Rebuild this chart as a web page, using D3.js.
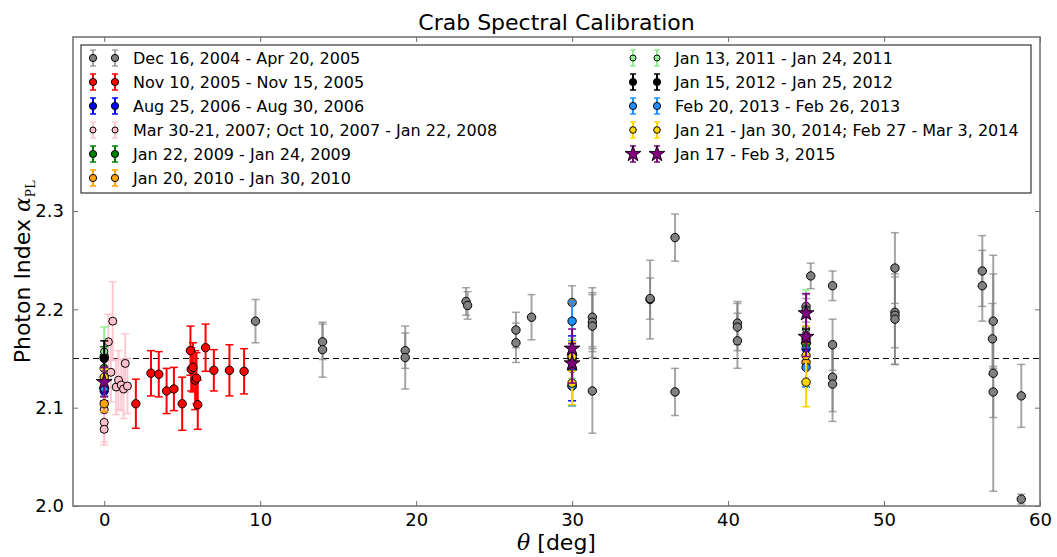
<!DOCTYPE html>
<html><head><meta charset="utf-8">
<script src="https://cdn.jsdelivr.net/npm/d3@7"></script>
<style>body{margin:0;background:#fff} text{font-family:"DejaVu Sans",sans-serif;fill:#000}</style>
</head><body><svg id="c" width="1057" height="557"></svg>
<script>
// ---------- data ----------
const xTicks = [0, 10, 20, 30, 40, 50, 60];
const yTicks = [2.0, 2.1, 2.2, 2.3];
const refAlpha = 2.15;

const grayTheta = [0, 9.7, 14.0, 14.0, 19.3, 19.3, 23.2, 23.3, 26.4, 26.4, 27.4, 30.0, 31.3, 31.3, 31.3, 31.3, 35.0, 35.0, 36.6, 36.6, 40.6, 40.6, 40.6, 45.0, 45.0, 45.3, 46.7, 46.7, 46.7, 46.7, 50.7, 50.7, 50.7, 50.7, 56.3, 56.3, 57.0, 56.95, 57.0, 57.0, 58.8, 58.8];
const grayAlpha = [2.140, 2.188, 2.167, 2.159, 2.158, 2.151, 2.208, 2.204, 2.179, 2.166, 2.192, 2.207, 2.192, 2.187, 2.183, 2.117, 2.210, 2.211, 2.273, 2.116, 2.186, 2.182, 2.168, 2.203, 2.199, 2.234, 2.224, 2.164, 2.131, 2.124, 2.242, 2.197, 2.194, 2.190, 2.239, 2.224, 2.188, 2.170, 2.135, 2.116, 2.112, 2.007];
const grayErr = [0.010, 0.022, 0.018, 0.028, 0.018, 0.032, 0.014, 0.014, 0.018, 0.020, 0.023, 0.017, 0.030, 0.030, 0.032, 0.043, 0.040, 0.021, 0.024, 0.024, 0.022, 0.024, 0.028, 0.012, 0.012, 0.013, 0.015, 0.026, 0.035, 0.038, 0.036, 0.036, 0.050, 0.046, 0.036, 0.036, 0.048, 0.036, 0.120, 0.026, 0.032, 0.005];

const redTheta = [2.03, 3.0, 3.5, 4.0, 4.47, 5.0, 5.53, 5.58, 5.69, 5.83, 5.92, 6.0, 6.5, 7.03, 8.03, 8.97];
const redAlpha = [2.104, 2.135, 2.134, 2.117, 2.119, 2.104, 2.158, 2.139, 2.141, 2.128, 2.130, 2.103, 2.161, 2.138, 2.138, 2.137];
const redErr = [0.025, 0.023, 0.023, 0.023, 0.022, 0.027, 0.025, 0.022, 0.025, 0.030, 0.026, 0.025, 0.024, 0.021, 0.026, 0.023];

const blueTheta = [0, 30, 45];
const blueAlpha = [2.117, 2.140, 2.160];
const blueErr = [0.010, 0.033, 0.012];

const pinkTheta = [0, 0, 0, 0.27, 0.43, 0.55, 0.77, 0.92, 1.09, 1.24, 1.35, 1.49];
const pinkAlpha = [2.098, 2.085, 2.078, 2.167, 2.136, 2.188, 2.121, 2.128, 2.123, 2.119, 2.145, 2.122];
const pinkErr = [0.022, 0.020, 0.016, 0.028, 0.030, 0.040, 0.028, 0.030, 0.026, 0.030, 0.030, 0.028];

const greenTheta = [0, 30, 45];
const greenAlpha = [2.152, 2.150, 2.165];
const greenErr = [0.010, 0.012, 0.010];

const orangeTheta = [0, 30, 45];
const orangeAlpha = [2.104, 2.122, 2.146];
const orangeErr = [0.008, 0.020, 0.020];

const lgreenTheta = [0, 30, 45];
const lgreenAlpha = [2.157, 2.150, 2.180];
const lgreenErr = [0.025, 0.020, 0.040];

const blackTheta = [0, 30, 45];
const blackAlpha = [2.150, 2.155, 2.170];
const blackErr = [0.018, 0.012, 0.010];

const dblueTheta = [0, 30, 30, 45];
const dblueAlpha = [2.120, 2.188, 2.122, 2.141];
const dblueErr = [0.008, 0.020, 0.020, 0.020];

const goldTheta = [0, 30, 30, 45, 45];
const goldAlpha = [2.131, 2.152, 2.125, 2.153, 2.126];
const goldErr = [0.008, 0.015, 0.022, 0.030, 0.025];

const purpleTheta = [0, 30, 30, 45, 45];
const purpleAlpha = [2.126, 2.160, 2.145, 2.196, 2.172];
const purpleErr = [0.015, 0.020, 0.020, 0.020, 0.020];

const seriesLabels = [
  "Dec 16, 2004 - Apr 20, 2005",
  "Nov 10, 2005 - Nov 15, 2005",
  "Aug 25, 2006 - Aug 30, 2006",
  "Mar 30-21, 2007; Oct 10, 2007 - Jan 22, 2008",
  "Jan 22, 2009 - Jan 24, 2009",
  "Jan 20, 2010 - Jan 30, 2010",
  "Jan 13, 2011 - Jan 24, 2011",
  "Jan 15, 2012 - Jan 25, 2012",
  "Feb 20, 2013 - Feb 26, 2013",
  "Jan 21 - Jan 30, 2014; Feb 27 - Mar 3, 2014",
  "Jan 17 - Feb 3, 2015"
];

// ---------- styles ----------
const seriesStyle = [
  {color:"#808080", ebColor:"#808080", ebOp:0.7, r:4.2, legR:3.6, marker:"circle"},
  {color:"#ff0000", ebColor:"#ff0000", ebOp:1, r:4.2, legR:3.6, marker:"circle"},
  {color:"#0000ff", ebColor:"#0000ff", ebOp:1, r:4.2, legR:3.6, marker:"circle"},
  {color:"#ffc0cb", ebColor:"#ffc0cb", ebOp:0.85, r:4.0, legR:3.0, marker:"circle"},
  {color:"#008000", ebColor:"#008000", ebOp:1, r:4.2, legR:3.6, marker:"circle"},
  {color:"#ffa500", ebColor:"#ffa500", ebOp:1, r:4.2, legR:3.6, marker:"circle"},
  {color:"#90ee90", ebColor:"#90ee90", ebOp:1, r:3.6, legR:3.0, marker:"circle"},
  {color:"#000000", ebColor:"#000000", ebOp:1, r:4.2, legR:3.6, marker:"circle"},
  {color:"#1e90ff", ebColor:"#1e90ff", ebOp:1, r:4.2, legR:3.6, marker:"circle"},
  {color:"#ffd700", ebColor:"#ffd700", ebOp:1, r:4.2, legR:3.3, marker:"circle"},
  {color:"#800080", ebColor:"#800080", ebOp:1, r:0, legR:0, marker:"star"}
];
const seriesData = [
  [grayTheta, grayAlpha, grayErr],
  [redTheta, redAlpha, redErr],
  [blueTheta, blueAlpha, blueErr],
  [pinkTheta, pinkAlpha, pinkErr],
  [greenTheta, greenAlpha, greenErr],
  [orangeTheta, orangeAlpha, orangeErr],
  [lgreenTheta, lgreenAlpha, lgreenErr],
  [blackTheta, blackAlpha, blackErr],
  [dblueTheta, dblueAlpha, dblueErr],
  [goldTheta, goldAlpha, goldErr],
  [purpleTheta, purpleAlpha, purpleErr]
];

// ---------- layout ----------
const L = 73, R = 1040, T = 37, B = 506;
const x = d3.scaleLinear().domain([-2, 60]).range([L, R]);
const y = d3.scaleLinear().domain([2.0, 2.477]).range([B, T]);
const svg = d3.select("#c");
const axisCol = "#6e6e6e";

// reference line
svg.append("line")
  .attr("x1", x(-2)).attr("x2", x(60)).attr("y1", y(refAlpha)).attr("y2", y(refAlpha))
  .attr("stroke", "#000").attr("stroke-width", 1.1).attr("stroke-dasharray", "6,4");

const star = d3.symbol().type(d3.symbolStar).size(78);

// series
seriesData.forEach((sd, si) => {
  const st = seriesStyle[si];
  const pts = sd[0].map((t, i) => ({t, a: sd[1][i], e: sd[2][i]}));
  const g = svg.append("g");
  const eb = g.append("g").attr("stroke", st.ebColor).attr("stroke-opacity", st.ebOp);
  pts.forEach(p => {
    const xx = x(p.t), y1 = y(p.a - p.e), y2 = y(p.a + p.e);
    eb.append("line").attr("x1", xx).attr("x2", xx).attr("y1", y1).attr("y2", y2).attr("stroke-width", 2);
    eb.append("line").attr("x1", xx - 4).attr("x2", xx + 4).attr("y1", y1).attr("y2", y1).attr("stroke-width", 1.5);
    eb.append("line").attr("x1", xx - 4).attr("x2", xx + 4).attr("y1", y2).attr("y2", y2).attr("stroke-width", 1.5);
  });
  pts.forEach(p => {
    if (st.marker === "star") {
      g.append("path").attr("d", star).attr("transform", `translate(${x(p.t)},${y(p.a)})`)
        .attr("fill", st.color).attr("stroke", "#000").attr("stroke-width", 0.9);
    } else {
      g.append("circle").attr("cx", x(p.t)).attr("cy", y(p.a)).attr("r", st.r)
        .attr("fill", st.color).attr("stroke", "#000").attr("stroke-width", 1);
    }
  });
});

// frame
svg.append("rect").attr("x", L).attr("y", T).attr("width", R - L).attr("height", B - T)
  .attr("fill", "none").attr("stroke", axisCol).attr("stroke-width", 1.5);

// axes (ticks inward)
const xb = svg.append("g").attr("transform", `translate(0,${B})`)
  .call(d3.axisBottom(x).tickValues(xTicks).tickSize(-5).tickPadding(7).tickFormat(d3.format("d")));
const xt = svg.append("g").attr("transform", `translate(0,${T})`)
  .call(d3.axisTop(x).tickValues(xTicks).tickSize(-5).tickFormat(""));
const yl = svg.append("g").attr("transform", `translate(${L},0)`)
  .call(d3.axisLeft(y).tickValues(yTicks).tickSize(-5).tickPadding(9).tickFormat(d3.format(".1f")));
const yr = svg.append("g").attr("transform", `translate(${R},0)`)
  .call(d3.axisRight(y).tickValues(yTicks).tickSize(-5).tickFormat(""));
[xb, xt, yl, yr].forEach(a => {
  a.select(".domain").remove();
  a.selectAll(".tick line").attr("stroke", axisCol).attr("stroke-width", 1);
  a.selectAll(".tick text").attr("font-family", "DejaVu Sans").attr("font-size", 18).attr("fill", "#000");
});
xb.selectAll(".tick text").attr("dy", "0.72em");

// title and axis labels
svg.append("text").attr("x", (L + R) / 2).attr("y", 30).attr("text-anchor", "middle")
  .attr("font-size", 22).text("Crab Spectral Calibration");

const xl = svg.append("text").attr("x", (L + R) / 2).attr("y", 550).attr("text-anchor", "middle").attr("font-size", 22);
xl.append("tspan").attr("font-family", "DejaVu Serif").attr("font-style", "italic").text("θ");
xl.append("tspan").text(" [deg]");

const ylab = svg.append("text").attr("transform", `translate(30,${(T + B) / 2}) rotate(-90)`)
  .attr("text-anchor", "middle").attr("font-size", 22);
ylab.append("tspan").text("Photon Index ");
ylab.append("tspan").attr("font-family", "DejaVu Serif").attr("font-style", "italic").text("α");
ylab.append("tspan").attr("font-family", "Liberation Serif").attr("font-size", 15).attr("dy", 5).text("PL");

// legend
const lg = svg.append("g");
lg.append("rect").attr("x", 81).attr("y", 45).attr("width", 950).attr("height", 148)
  .attr("fill", "#fff").attr("stroke", "#444").attr("stroke-width", 1.3);
seriesLabels.forEach((lab, i) => {
  const st = seriesStyle[i];
  const col = i < 6 ? 0 : 1;
  const row = i < 6 ? i : i - 6;
  const cy = 58 + row * 24;
  const mx = col === 0 ? [93, 115] : [633, 657];
  const tx = col === 0 ? 133 : 675;
  mx.forEach(m => {
    const e = lg.append("g").attr("stroke", st.ebColor).attr("stroke-opacity", st.ebOp);
    e.append("line").attr("x1", m).attr("x2", m).attr("y1", cy - 8).attr("y2", cy + 8).attr("stroke-width", 2);
    e.append("line").attr("x1", m - 3).attr("x2", m + 3).attr("y1", cy - 8).attr("y2", cy - 8).attr("stroke-width", 1.5);
    e.append("line").attr("x1", m - 3).attr("x2", m + 3).attr("y1", cy + 8).attr("y2", cy + 8).attr("stroke-width", 1.5);
    if (st.marker === "star") {
      lg.append("path").attr("d", star).attr("transform", `translate(${m},${cy})`)
        .attr("fill", st.color).attr("stroke", "#000").attr("stroke-width", 0.9);
    } else {
      lg.append("circle").attr("cx", m).attr("cy", cy).attr("r", st.legR)
        .attr("fill", st.color).attr("stroke", "#000").attr("stroke-width", 1);
    }
  });
  lg.append("text").attr("x", tx).attr("y", cy + 6).attr("font-size", 16).text(lab);
});
</script></body></html>
